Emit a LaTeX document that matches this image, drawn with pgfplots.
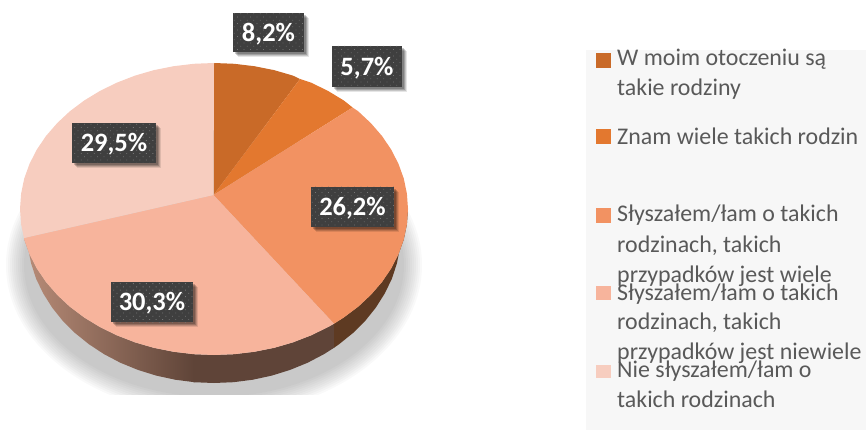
\documentclass[border=0pt]{standalone}
\usepackage{pgfplots}
\pgfplotsset{compat=1.18}
\usepackage{fontspec}
\setmainfont{Carlito}
\usetikzlibrary{patterns.meta}
\definecolor{wa}{HTML}{C96A28}
\definecolor{wb}{HTML}{E3782F}
\definecolor{wc}{HTML}{F29262}
\definecolor{wd}{HTML}{F7B49C}
\definecolor{we}{HTML}{F7CDBF}
\definecolor{txt}{HTML}{595959}
\definecolor{box}{HTML}{3F3F3F}
\definecolor{sideL}{HTML}{B88C78}
\definecolor{sideM}{HTML}{5F4438}
\definecolor{sideR}{HTML}{5E3A22}
\newcommand{\lab}[5]{%
  \fill[black,opacity=0.10] (axis cs:#1+5,#2+5) rectangle (axis cs:#3+5,#4+5);
  \fill[black,opacity=0.14] (axis cs:#1+4,#2+4) rectangle (axis cs:#3+4,#4+4);
  \fill[black,opacity=0.18] (axis cs:#1+3,#2+3) rectangle (axis cs:#3+3,#4+3);
  \fill[black,opacity=0.20] (axis cs:#1+2,#2+2) rectangle (axis cs:#3+2,#4+2);
  \fill[box] (axis cs:#1,#2) rectangle (axis cs:#3,#4);
  \fill[pattern={Dots[distance=4.6pt,radius=0.55pt,angle=45]},pattern color=white!28!box] (axis cs:#1,#2) rectangle (axis cs:#3,#4);
  \node[text=white,font=\fontsize{26.5}{30}\selectfont\bfseries,inner sep=0pt] at (axis cs:{(#1+#3)/2},{(#2+#4)/2+1.5}) {#5};}
\newcommand{\leg}[3]{\node[anchor=base west,inner sep=0pt,text=txt,font=\fontsize{23.9}{26}\selectfont] at (axis cs:#1,#2) {#3};}
\newcommand{\shd}[2]{\fill[black,opacity=0.024] (axis cs:214,265) ellipse [x radius=#1,y radius=#2];}
\begin{document}
\begin{tikzpicture}
\begin{axis}[x=1pt,y=1pt,xmin=0,xmax=866,ymin=0,ymax=430,y dir=reverse,hide axis]
% legend panel
\addplot[draw=none,fill=black!3] coordinates {(586,50)(866,50)(866,430)(586,430)} --cycle;
% soft ground shadow
\begin{scope}
\clip (axis cs:0,0) rectangle (axis cs:866,394);
\shd{208}{150}\shd{206}{148}\shd{204}{146}\shd{202}{144}\shd{200}{142}\shd{198}{140}\shd{196}{138}\shd{194}{136}\shd{192}{134}\shd{190}{132}
\end{scope}
% side, left part (shaded)
\addplot[draw=none,left color=sideL,right color=sideM] coordinates {
(24,238)(24.2,239.4)(29.5,254.1)(36.8,268.4)(46,282)(57.1,294.8)(69.8,306.7)(84.2,317.5)(100,327.1)(117,335.4)(135.1,342.4)(154,347.9)(173.7,351.8)(193.7,354.2)
(194.5,382.2)(175.1,379.7)(156.2,375.6)(137.9,369.9)(120.5,362.8)(104.1,354.2)(88.9,344.2)(75,333)(62.7,320.8)(52.1,307.5)(43.2,293.4)(36.1,278.7)(31.1,263.4)(28,247.8)} --cycle;
% side, middle part
\addplot[draw=none,fill=sideM] coordinates {
(193,354.2)(214,355)(234.3,354.2)(254.3,351.8)(274,347.9)(292.9,342.4)(311,335.4)(328,327.1)(334,323.7)
(334,347.8)(323.9,354.2)(307.5,362.8)(290.1,369.9)(271.8,375.6)(252.9,379.7)(233.5,382.2)(214,383)(193,382.2)} --cycle;
% side, right part
\addplot[draw=none,fill=sideR] coordinates {
(334,323.7)(343.8,317.5)(358.2,306.7)(370.9,294.8)(382,282)(391.2,268.4)(398.5,254.1)(403.8,239.4)(406.9,224.3)(408,209)
(401,232)(400,247.8)(396.9,263.4)(391.9,278.7)(384.8,293.4)(375.9,307.5)(365.3,320.8)(353,333)(339.1,344.2)(334,347.8)} --cycle;
% wedge 8.2
\addplot[draw=none,fill=wa] coordinates {(213.5,195)(214,63)(234.3,63.8)(254.3,66.2)(274,70.1)(292.9,75.6)(300,79)} --cycle;
% wedge 5.7
\addplot[draw=none,fill=wb] coordinates {(213.5,195)(300,79)(311,82.6)(328,90.9)(343.8,100.5)(352.6,107.5)} --cycle;
% wedge 26.2
\addplot[draw=none,fill=wc] coordinates {(213.5,195)(352.6,107.5)(358.2,111.3)(370.9,123.2)(382,136)(391.2,149.6)(398.5,163.9)(403.8,178.6)(406.9,193.7)(408,209)(406.9,224.3)(403.8,239.4)(398.5,254.1)(391.2,268.4)(382,282)(370.9,294.8)(358.2,306.7)(343.8,317.5)(334,323.7)} --cycle;
% wedge 30.3
\addplot[draw=none,fill=wd] coordinates {(213.5,195)(334,323.7)(328,327.1)(311,335.4)(292.9,342.4)(274,347.9)(254.3,351.8)(234.3,354.2)(214,355)(193.7,354.2)(173.7,351.8)(154,347.9)(135.1,342.4)(117,335.4)(100,327.1)(84.2,317.5)(69.8,306.7)(57.1,294.8)(46,282)(36.8,268.4)(29.5,254.1)(24.2,239.4)(24,238)} --cycle;
% wedge 29.5
\addplot[draw=none,fill=we] coordinates {(213.5,195)(24,238)(21.1,224.3)(20,209)(21.1,193.7)(24.2,178.6)(29.5,163.9)(36.8,149.6)(46,136)(57.1,123.2)(69.8,111.3)(84.2,100.5)(100,90.9)(117,82.6)(135.1,75.6)(154,70.1)(173.7,66.2)(193.7,63.8)(214,63)} --cycle;
% data labels
\lab{233}{13}{304}{52}{8,2\%}
\lab{332}{46}{402}{87}{5,7\%}
\lab{72}{123}{156}{163}{29,5\%}
\lab{311}{187}{394}{227}{26,2\%}
\lab{111}{282}{193}{322}{30,3\%}
% legend swatches
\addplot[draw=none,fill=wa] coordinates {(596,53)(611,53)(611,68)(596,68)} --cycle;
\addplot[draw=none,fill=wb] coordinates {(596,129)(611,129)(611,144)(596,144)} --cycle;
\addplot[draw=none,fill=wc] coordinates {(596,208)(611,208)(611,223)(596,223)} --cycle;
\addplot[draw=none,fill=wd] coordinates {(596,286)(611,286)(611,300)(596,300)} --cycle;
\addplot[draw=none,fill=we] coordinates {(596,365)(611,365)(611,378)(596,378)} --cycle;
% legend text
\leg{617}{66}{W moim otoczeniu są}
\leg{617}{96}{takie rodziny}
\leg{617}{145}{Znam wiele takich rodzin}
\leg{617}{222}{Słyszałem/łam o takich}
\leg{617}{252}{rodzinach, takich}
\leg{617}{282}{przypadków jest wiele}
\leg{617}{300}{Słyszałem/łam o takich}
\leg{617}{329}{rodzinach, takich}
\leg{617}{359}{przypadków jest niewiele}
\leg{617}{377}{Nie słyszałem/łam o}
\leg{617}{407}{takich rodzinach}
\end{axis}
\end{tikzpicture}
\end{document}
